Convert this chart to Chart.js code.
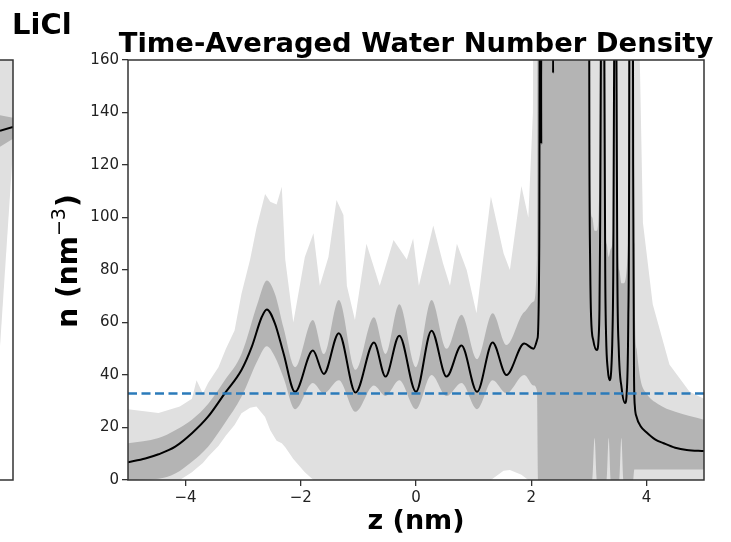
<!DOCTYPE html>
<html>
<head>
<meta charset="utf-8">
<script src="https://cdn.jsdelivr.net/npm/chart.js@4.4.1/dist/chart.umd.min.js"></script>
<style>
  html, body { margin: 0; padding: 0; background: #fff; }
  #wrap { position: relative; width: 731px; height: 542px; overflow: hidden; }
  #wrap canvas { position: absolute; left: 0; top: 0; }
</style>
</head>
<body>
<div id="wrap">
  <canvas id="densityChart" width="731" height="542" style="width:731px;height:542px"></canvas>
  <canvas id="sideChart" width="14" height="542" style="width:14px;height:542px"></canvas>
</div>
<script>
// labels
const chartTitle = 'Time-Averaged Water Number Density';
const panelLabel = 'LiCl';
const xTitle = 'z (nm)';
const yTitleParts = ['n (nm', '\u22123', ')'];

// ticks
const xTicks = [-4, -2, 0, 2, 4];
const yTicks = [0, 20, 40, 60, 80, 100, 120, 140, 160];

// bulk water reference density
const bulkDensity = 33;

// mean density (black line); values above 160 run off the top of the plot
const zLine = [-5.0, -4.7, -4.47, -4.18, -3.89, -3.61, -3.32, -3.03, -2.85, -2.68, -2.59, -2.45, -2.30, -2.10,
  -1.79, -1.60, -1.34, -1.05, -0.73, -0.53, -0.29, 0.00, 0.27, 0.53, 0.79, 1.06, 1.33, 1.57, 1.88, 2.04,
  2.11, 2.14, 2.16, 2.175, 2.19, 2.36, 2.38, 2.40,
  2.99, 3.01, 3.025, 3.04, 3.08, 3.14, 3.17, 3.185, 3.195, 3.21, 3.23,
  3.25, 3.27, 3.285, 3.30, 3.33, 3.36, 3.39, 3.41, 3.425, 3.44, 3.46,
  3.48, 3.495, 3.52, 3.57, 3.63, 3.66, 3.685, 3.70, 3.715,
  3.75, 3.77, 3.785, 3.80, 3.83, 3.90, 4.00, 4.15, 4.30, 4.50, 4.70, 5.00];
const nLine = [6.8, 8.2, 9.8, 12.7, 17.8, 24.1, 33, 41.9, 50.8, 62, 65, 59.7, 48.3, 33.6,
  49.3, 40.4, 55.9, 33.3, 52.4, 39.4, 55, 33.6, 56.9, 39.4, 51.2, 33.6, 52.4, 40, 52, 50,
  54, 90, 400, 128, 400, 400, 155, 400,
  400, 130, 80, 62, 53, 49.5, 54, 65, 90, 160, 400,
  400, 160, 80, 55, 42, 38, 42, 55, 80, 160, 400,
  160, 80, 50, 35, 29.3, 34, 60, 120, 400,
  400, 120, 40, 28, 24, 20.5, 18.2, 15.5, 14, 12.3, 11.4, 11];

// one standard deviation band (dark grey)
const zDark = [-5.0, -4.47, -4.18, -3.89, -3.61, -3.32, -3.03, -2.74, -2.59, -2.45, -2.30, -2.10, -1.79, -1.60,
  -1.34, -1.05, -0.73, -0.53, -0.29, 0.00, 0.27, 0.53, 0.79, 1.06, 1.33, 1.57, 1.88, 2.04, 2.10, 2.12,
  2.13, 2.99, 3.02, 3.06, 3.10, 3.14, 3.18, 3.21, 3.27, 3.29, 3.31, 3.345, 3.38, 3.43, 3.46,
  3.48, 3.50, 3.53, 3.565, 3.60, 3.69, 3.715, 3.77, 3.79, 3.83, 3.90, 4.00, 4.20, 4.50, 5.00];
const darkUpper = [14, 16, 19, 23, 29, 38, 48, 68, 76, 71, 58, 43, 61, 48,
  68.6, 42, 62, 48, 67, 43, 68.6, 50, 63, 46, 63.5, 51.4, 64, 68, 85, 400,
  400, 400, 110, 100, 95, 95, 110, 400, 400, 100, 90, 85, 88, 100, 400,
  400, 95, 80, 75, 75, 95, 400, 400, 90, 50, 38, 33, 29, 26, 23];
const darkLower = [0, 0.5, 2.5, 7, 12.7, 21.6, 31.7, 46, 51, 47, 39, 27, 37, 33,
  38, 26, 36, 32, 38, 27, 40, 32, 37, 27, 38, 33, 40, 36, 34, 0,
  0, 0, 0, 0, 16, 0, 0, 0, 0, 0, 0, 16, 0, 0, 0,
  0, 0, 0, 16, 0, 0, 0, 0, 4, 4, 4, 4, 4, 4, 4];

// full range band (light grey)
const zLight = [-5.0, -4.47, -4.1, -3.89, -3.81, -3.70, -3.61, -3.43, -3.30, -3.15, -3.03, -2.88, -2.77, -2.62,
  -2.53, -2.42, -2.33, -2.27, -2.13, -1.93, -1.78, -1.67, -1.52, -1.38, -1.26, -1.20, -1.06, -0.86, -0.63,
  -0.39, -0.16, -0.05, 0.05, 0.30, 0.47, 0.59, 0.71, 0.88, 1.05, 1.30, 1.52, 1.63, 1.83, 1.95, 2.03, 2.06,
  3.83, 3.85, 3.94, 4.11, 4.40, 4.75, 5.00];
const lightUpper = [27, 25.5, 28, 31, 38, 33, 37, 43, 50, 57, 71, 84, 96, 109,
  106, 105, 111.7, 84, 60, 85, 94, 74, 85, 106.7, 101, 74, 61, 90, 74,
  91.4, 84, 92, 74, 97, 82.5, 74, 90, 80, 63.5, 108, 86.4, 80, 112, 100, 140, 400,
  400, 200, 98, 67, 44, 33.6, 31];
const lightLower = [0, 0, 0, 3, 4.5, 6.5, 8.9, 13, 17, 21, 25.4, 27.5, 28, 24,
  19, 15, 14, 12.5, 8, 3, 0, 0, 0, 0, 0, 0, 0, 0, 0,
  0, 0, 0, 0, 0, 0, 0, 0, 0, 0, 0, 3.5, 3.8, 2, 0, 0, 0,
  0, 0, 0, 0, 0, 0, 0];

// edge of the neighbouring LiCl panel
const sideX = [0, 1];
const sideLine = [133, 134.5];
const sideDarkUpper = [139, 138];
const sideDarkLower = [127, 130];
const sideLightUpper = [400, 400];
const sideLightLower = [51, 126];

const LIGHT = '#e0e0e0';
const DARK = '#b4b4b4';
const FONT = '"DejaVu Sans", sans-serif';

const pts = (xs, ys) => xs.map((x, i) => ({ x: x, y: ys[i] }));
const minus = v => (v < 0 ? '\u2212' + Math.abs(v) : String(v));

const frameAndText = {
    id: 'frameAndText',
    afterDraw(chart) {
        const { ctx, chartArea: a } = chart;
        ctx.save();
        ctx.strokeStyle = '#333';
        ctx.lineWidth = 1.5;
        ctx.strokeRect(a.left, a.top, a.right - a.left, a.bottom - a.top);

        ctx.fillStyle = '#000';
        ctx.textBaseline = 'alphabetic';
        ctx.font = 'bold 27.4px ' + FONT;
        ctx.textAlign = 'center';
        ctx.fillText(chartTitle, (a.left + a.right) / 2, 52);
        ctx.textAlign = 'left';
        ctx.font = 'bold 29px ' + FONT;
        ctx.fillText(panelLabel, 12, 34);

        // y-axis label with a superscript exponent
        const bold = 'bold 28px ' + FONT;
        const sup = '19px ' + FONT;
        ctx.font = bold;
        const w0 = ctx.measureText(yTitleParts[0]).width;
        const w2 = ctx.measureText(yTitleParts[2]).width;
        ctx.font = sup;
        const w1 = ctx.measureText(yTitleParts[1]).width + 1;
        const total = w0 + w1 + w2;
        ctx.translate(77, 261);
        ctx.rotate(-Math.PI / 2);
        let x = -total / 2;
        ctx.font = bold;
        ctx.fillText(yTitleParts[0], x, 0);
        x += w0;
        ctx.font = sup;
        ctx.fillText(yTitleParts[1], x, -12);
        x += w1;
        ctx.font = bold;
        ctx.fillText(yTitleParts[2], x, 0);
        ctx.restore();
    }
};

const band = (xs, ys, color, order, fill, mode) => ({
    data: pts(xs, ys),
    borderWidth: 0,
    pointRadius: 0,
    backgroundColor: color,
    borderColor: color,
    fill: fill,
    order: order,
    cubicInterpolationMode: mode || 'default',
    clip: 0
});

const ctx = document.getElementById('densityChart').getContext('2d');
const densityChart = new Chart(ctx, {
    type: 'line',
    data: {
        datasets: [
            {
                data: pts([-5, 5], [bulkDensity, bulkDensity]),
                borderColor: '#2b7bba',
                borderWidth: 2.5,
                borderDash: [9, 4.5],
                pointRadius: 0,
                fill: false,
                order: 0,
                clip: 0
            },
            {
                data: pts(zLine, nLine),
                borderColor: '#000',
                borderWidth: 2,
                pointRadius: 0,
                cubicInterpolationMode: 'monotone',
                fill: false,
                order: 1,
                clip: 0
            },
            band(zDark, darkUpper, DARK, 2, '+1', 'monotone'),
            band(zDark, darkLower, DARK, 2, false, 'monotone'),
            band(zLight, lightUpper, LIGHT, 3, '+1'),
            band(zLight, lightLower, LIGHT, 3, false)
        ]
    },
    options: {
        responsive: false,
        animation: false,
        devicePixelRatio: 1,
        events: [],
        layout: { padding: { left: 0, right: 27, top: 60, bottom: 0 } },
        plugins: { legend: { display: false }, tooltip: { enabled: false }, title: { display: false } },
        scales: {
            x: {
                type: 'linear',
                min: -5,
                max: 5,
                afterBuildTicks: s => { s.ticks = xTicks.map(v => ({ value: v })); },
                afterFit: s => { s.height = 62; },
                ticks: { callback: minus, color: '#222', font: { family: FONT, size: 15 }, padding: 3, maxRotation: 0 },
                grid: { drawOnChartArea: false, drawTicks: true, tickLength: 6, color: '#333', lineWidth: 1.3 },
                border: { display: false },
                title: { display: true, text: xTitle, color: '#000', font: { family: FONT, size: 27, weight: 'bold' }, padding: { top: 0, bottom: 4 } }
            },
            y: {
                min: 0,
                max: 160,
                afterBuildTicks: s => { s.ticks = yTicks.map(v => ({ value: v })); },
                afterFit: s => { s.width = 128; },
                ticks: { callback: minus, color: '#222', font: { family: FONT, size: 15 }, padding: 3 },
                grid: { drawOnChartArea: false, drawTicks: true, tickLength: 6, color: '#333', lineWidth: 1.3 },
                border: { display: false },
                title: { display: false }
            }
        }
    },
    plugins: [frameAndText]
});

// sliver of the neighbouring panel on the left
const sideFrame = {
    id: 'sideFrame',
    afterDraw(chart) {
        const { ctx, chartArea: a } = chart;
        ctx.save();
        ctx.strokeStyle = '#333';
        ctx.lineWidth = 1.5;
        ctx.beginPath();
        ctx.moveTo(a.left - 2, a.top);
        ctx.lineTo(a.right, a.top);
        ctx.lineTo(a.right, a.bottom);
        ctx.lineTo(a.left - 2, a.bottom);
        ctx.stroke();
        ctx.restore();
    }
};

const sideChart = new Chart(document.getElementById('sideChart').getContext('2d'), {
    type: 'line',
    data: {
        datasets: [
            { data: pts(sideX, sideLine), borderColor: '#000', borderWidth: 2, pointRadius: 0, fill: false, order: 1, clip: 0 },
            band(sideX, sideDarkUpper, DARK, 2, '+1'),
            band(sideX, sideDarkLower, DARK, 2, false),
            band(sideX, sideLightUpper, LIGHT, 3, '+1'),
            band(sideX, sideLightLower, LIGHT, 3, false)
        ]
    },
    options: {
        responsive: false,
        animation: false,
        devicePixelRatio: 1,
        events: [],
        layout: { padding: { left: 0, right: 1, top: 60, bottom: 62 } },
        plugins: { legend: { display: false }, tooltip: { enabled: false } },
        scales: {
            x: { type: 'linear', min: 0, max: 1, display: false },
            y: { min: 0, max: 160, display: false }
        }
    },
    plugins: [sideFrame]
});
</script>
</body>
</html>
